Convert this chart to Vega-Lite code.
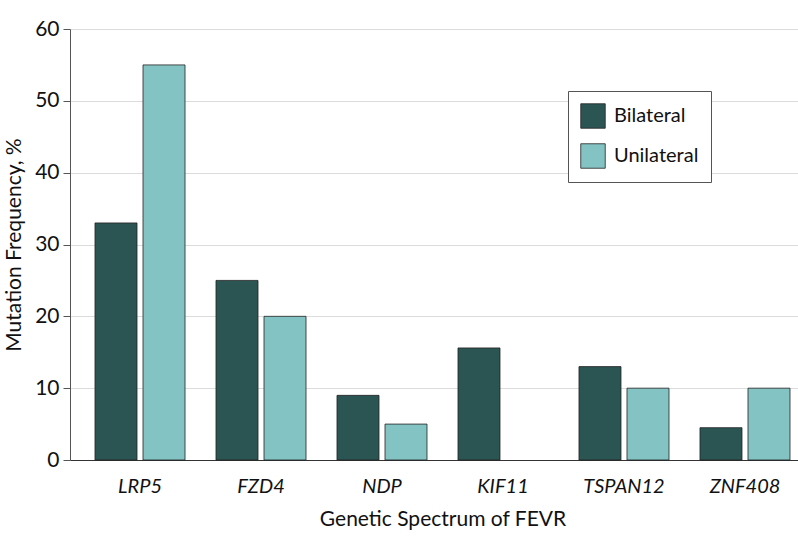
{
  "$schema": "https://vega.github.io/schema/vega-lite/v6.json",
  "width": 745,
  "height": 431,
  "padding": {"top": 18, "left": 3, "right": 0, "bottom": 5},
  "background": "white",
  "config": {
    "font": "Lato",
    "view": {"stroke": null}
  },
  "data": {
    "values": [
      {"gene": "LRP5", "group": "Bilateral", "value": 33},
      {"gene": "LRP5", "group": "Unilateral", "value": 55},
      {"gene": "FZD4", "group": "Bilateral", "value": 25},
      {"gene": "FZD4", "group": "Unilateral", "value": 20},
      {"gene": "NDP", "group": "Bilateral", "value": 9},
      {"gene": "NDP", "group": "Unilateral", "value": 5},
      {"gene": "KIF11", "group": "Bilateral", "value": 15.6},
      {"gene": "TSPAN12", "group": "Bilateral", "value": 13},
      {"gene": "TSPAN12", "group": "Unilateral", "value": 10},
      {"gene": "ZNF408", "group": "Bilateral", "value": 4.5},
      {"gene": "ZNF408", "group": "Unilateral", "value": 10}
    ]
  },
  "mark": {"type": "bar", "stroke": "#222", "strokeWidth": 0.8},
  "encoding": {
    "x": {
      "field": "gene",
      "type": "nominal",
      "sort": ["LRP5", "FZD4", "NDP", "KIF11", "TSPAN12", "ZNF408"],
      "scale": {"paddingInner": 0.256, "paddingOuter": 0.2066},
      "axis": {
        "title": "Genetic Spectrum of FEVR",
        "titleFontSize": 21,
        "titleFontWeight": "normal",
        "titleColor": "#111",
        "titlePadding": 12,
        "labelAngle": 0,
        "labelFontSize": 20,
        "labelFontStyle": "italic",
        "labelColor": "#111",
        "labelPadding": 16,
        "ticks": false,
        "domainColor": "#333",
        "domainWidth": 1.2,
        "grid": false
      }
    },
    "xOffset": {
      "field": "group",
      "type": "nominal",
      "scale": {"domain": ["Bilateral", "Unilateral"], "paddingInner": 0.125, "paddingOuter": 0}
    },
    "y": {
      "field": "value",
      "type": "quantitative",
      "scale": {"domain": [0, 60], "nice": false},
      "axis": {
        "title": "Mutation Frequency, %",
        "titleFontSize": 21,
        "titleFontWeight": "normal",
        "titleColor": "#111",
        "titlePadding": 10,
        "values": [0, 10, 20, 30, 40, 50, 60],
        "labelFontSize": 21,
        "labelColor": "#111",
        "labelPadding": 4,
        "tickSize": 7,
        "tickColor": "#555",
        "domainColor": "#555",
        "gridColor": "#dcdcdc",
        "gridWidth": 1.2
      }
    },
    "color": {
      "field": "group",
      "type": "nominal",
      "scale": {"domain": ["Bilateral", "Unilateral"], "range": ["#2b5553", "#84c3c3"]},
      "legend": {
        "title": null,
        "orient": "none",
        "legendX": 498,
        "legendY": 62,
        "symbolType": "square",
        "symbolSize": 600,
        "symbolStrokeColor": "#222",
        "symbolStrokeWidth": 0.8,
        "labelFontSize": 20,
        "labelColor": "#111",
        "labelOffset": 8,
        "rowPadding": 12,
        "padding": 12,
        "strokeColor": "#555",
        "fillColor": "white",
        "columnPadding": 20
      }
    }
  }
}
